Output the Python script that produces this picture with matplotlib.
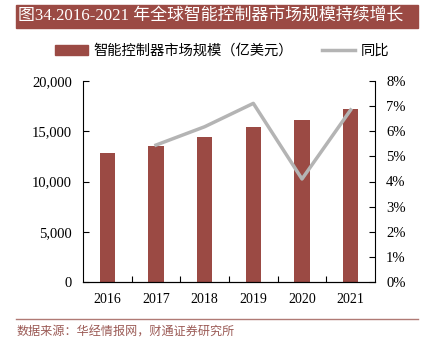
import matplotlib.pyplot as plt
import matplotlib.patches as mpatches
from matplotlib.lines import Line2D
from matplotlib.ticker import FuncFormatter, FixedLocator
import numpy as np

plt.rcParams['font.family'] = ['Liberation Serif', 'Noto Sans CJK SC', 'DejaVu Sans']

years = ['2016', '2017', '2018', '2019', '2020', '2021']
market_size = [12840, 13560, 14400, 15420, 16090, 17180]
yoy_years = ['2017', '2018', '2019', '2020', '2021']
yoy = [5.45, 6.18, 7.11, 4.10, 6.85]

bar_color = '#9b4a44'
line_color = '#b4b4b4'

fig = plt.figure(figsize=(4.22, 3.5), dpi=100)
ax = fig.add_axes([83 / 422, 1 - 282 / 350, 292 / 422, 201 / 350])

x = np.arange(len(years))
ax.bar(x, market_size, width=0.31, color=bar_color, zorder=2)
ax.set_xlim(-0.5, len(years) - 0.5)
ax.set_ylim(0, 20000)
ax.set_yticks([0, 5000, 10000, 15000, 20000])
ax.yaxis.set_major_formatter(FuncFormatter(lambda v, p: f'{int(v):,}'))
ax.set_xticks(x)
ax.set_xticklabels(years)
ax.xaxis.set_minor_locator(FixedLocator(np.arange(0.5, len(years) - 1, 1)))
ax.tick_params(axis='x', which='major', length=0, labelsize=10, pad=8)
ax.tick_params(axis='x', which='minor', direction='in', length=4, width=0.8)
ax.tick_params(axis='y', direction='in', length=4, width=0.8, labelsize=10.5, pad=8)
ax.spines['top'].set_visible(False)
ax.spines['right'].set_visible(False)

ax2 = ax.twinx()
xi = [years.index(y) for y in yoy_years]
ax2.plot(xi, yoy, color=line_color, linewidth=2.5, zorder=3)
ax2.set_ylim(0, 8)
ax2.set_yticks(range(0, 9))
ax2.yaxis.set_major_formatter(FuncFormatter(lambda v, p: f'{int(v)}%'))
ax2.tick_params(axis='y', direction='in', length=4, width=0.8, labelsize=10.5, pad=8)
ax2.spines['top'].set_visible(False)
ax2.spines['left'].set_visible(False)

# title bar
fig.patches.append(mpatches.Rectangle((16 / 422, 1 - 28 / 350), 402 / 422, 23 / 350,
                                      transform=fig.transFigure, color=bar_color, zorder=0))
fig.text(18 / 422, 1 - 16.5 / 350, '图34.2016-2021 年全球智能控制器市场规模持续增长',
         color='white', fontsize=12.2, va='center', ha='left')

handles = [mpatches.Patch(color=bar_color), Line2D([], [], color=line_color, linewidth=2.5)]
fig.legend(handles, ['智能控制器市场规模（亿美元）', '同比'], loc='center',
           bbox_to_anchor=(222 / 422, 1 - 51 / 350), ncol=2, frameon=False,
           fontsize=10.3, handlelength=2.3, columnspacing=2.0, handletextpad=0.4)

# footer
fig.add_artist(Line2D([16 / 422, 418 / 422], [1 - 319 / 350, 1 - 319 / 350],
                      transform=fig.transFigure, color='#b07a75', linewidth=1))
fig.text(17 / 422, 1 - 333 / 350, '数据来源：华经情报网，财通证券研究所',
         color='#9b5a55', fontsize=8.7, va='center', ha='left')

fig.savefig('out.png', dpi=100)
